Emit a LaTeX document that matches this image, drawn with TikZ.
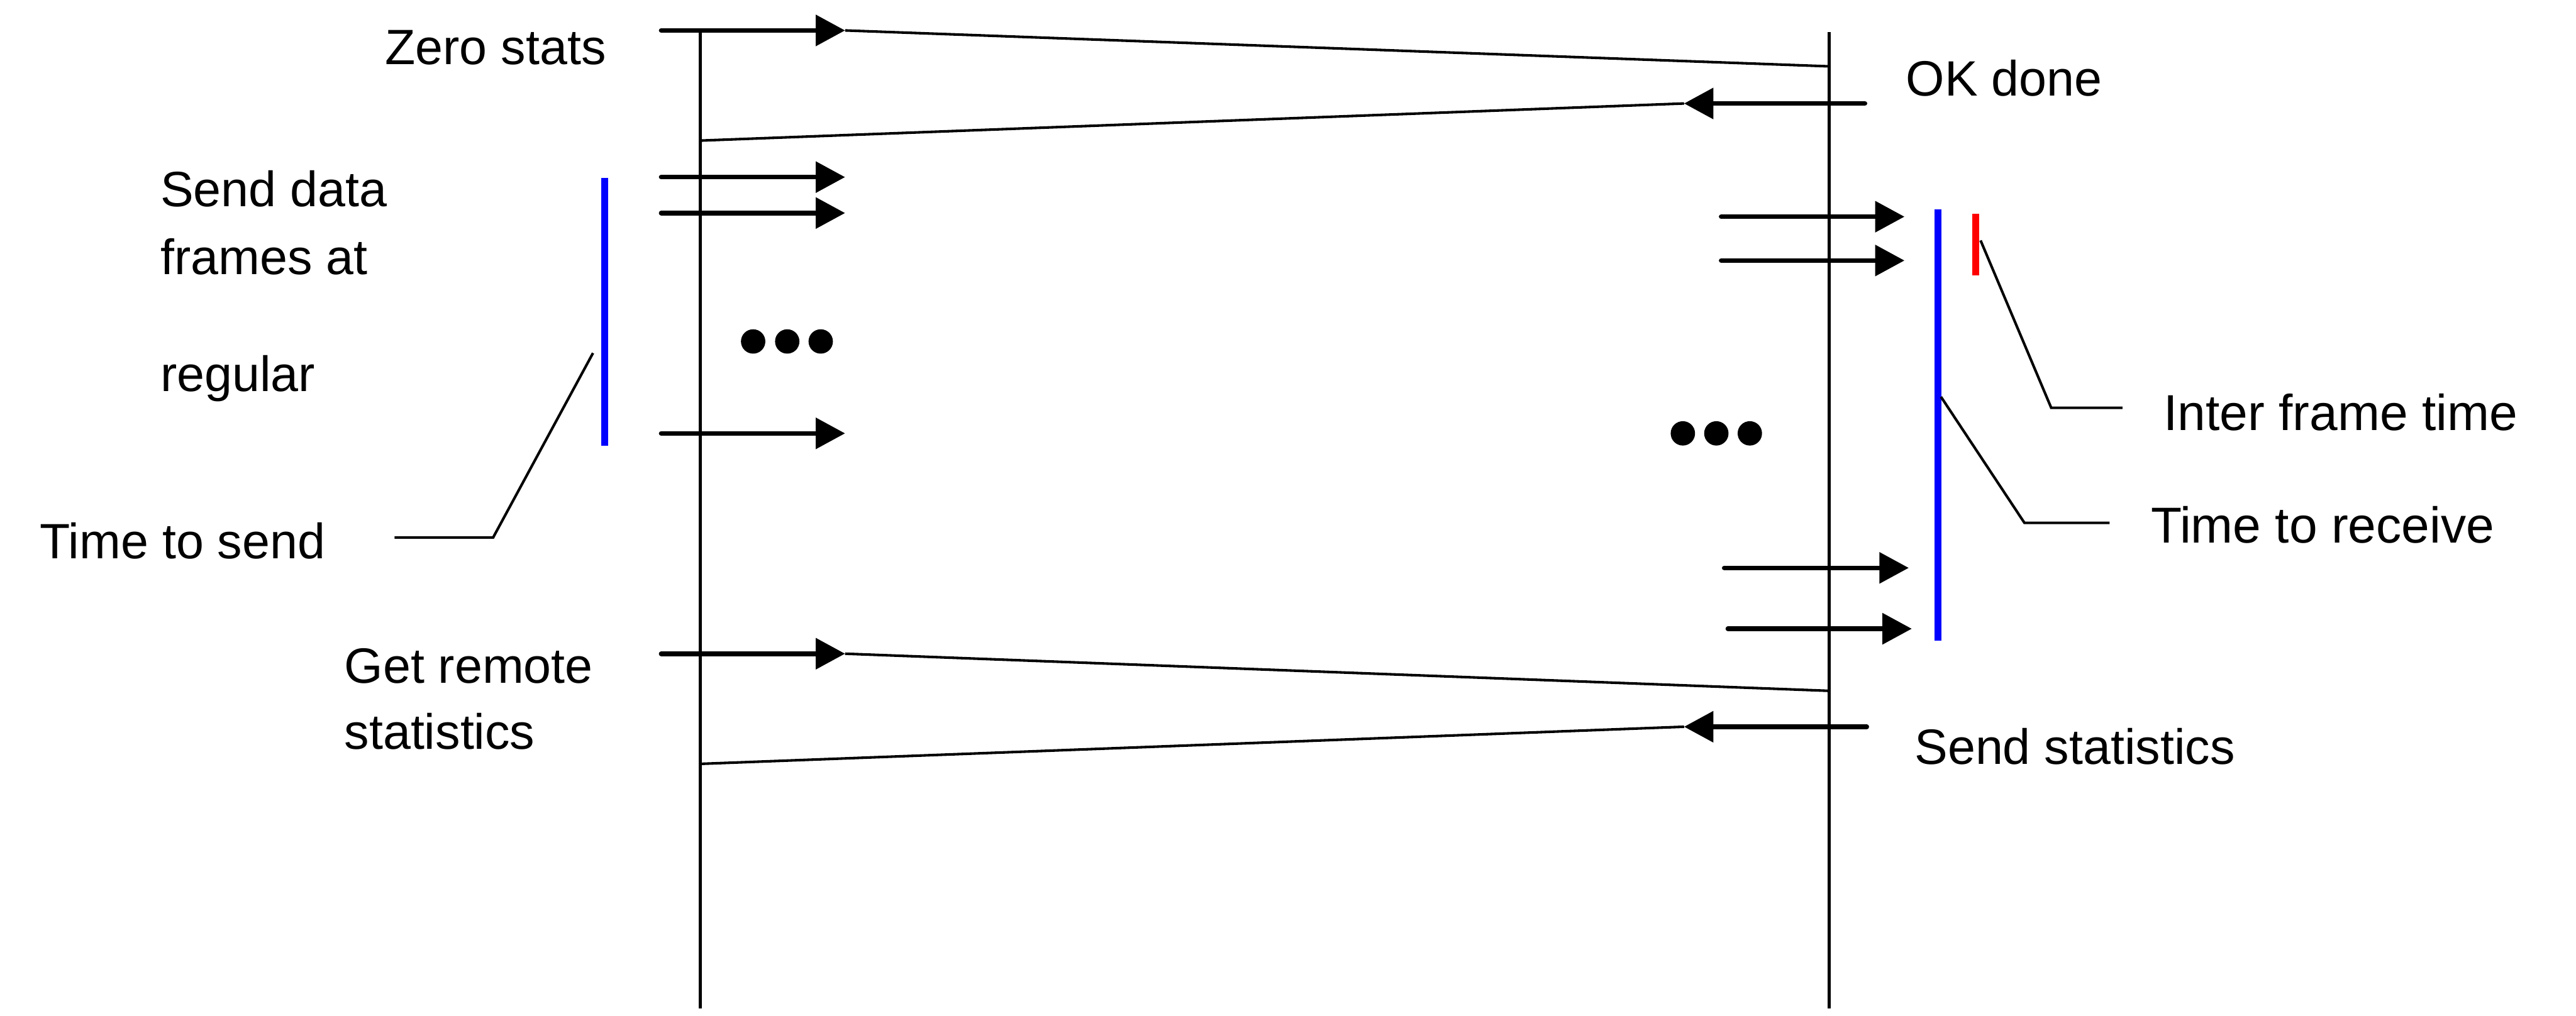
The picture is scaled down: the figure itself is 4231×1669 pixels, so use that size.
\documentclass[tikz,border=0pt]{standalone}
\usepackage{fontspec}
\setmainfont{Liberation Sans}
\usetikzlibrary{arrows.meta}

\newcommand{\lblfont}{\fontsize{23.2}{27}\selectfont}
\newcommand{\bigfont}{\fontsize{23.6}{28}\selectfont}

\tikzset{
	lifeline/.style={line width=1.4pt},
	msg/.style={line width=2.2pt, line cap=round, -{Triangle[length=13.7pt,width=14.2pt]}},
	slant/.style={line width=1.2pt},
	leader/.style={line width=1.2pt},
	bar/.style={line width=3.3pt},
	lbl/.style={anchor=base west, inner sep=0pt, font=\lblfont},
	biglbl/.style={anchor=base west, inner sep=0pt, font=\bigfont}
}

\begin{document}
\begin{tikzpicture}[x=0.01cm,y=-0.01cm]
		\useasboundingbox (0,0) rectangle (4231,1669);

		\coordinate (ltop) at (1150,52);
		\coordinate (lbot) at (1150,1657);
		\coordinate (rtop) at (3004,53);
		\coordinate (rbot) at (3004,1657);

		\draw [lifeline] (ltop) -- (lbot);
		\draw [lifeline] (rtop) -- (rbot);

		\coordinate (zs0) at (1086,50);
		\coordinate (zs1) at (1388,50);
		\coordinate (zs2) at (3004,109);
		\coordinate (ok0) at (3063,170);
		\coordinate (ok1) at (2766,170);
		\coordinate (ok2) at (1150,231);
		\coordinate (gr0) at (1086,1074);
		\coordinate (gr1) at (1388,1074);
		\coordinate (gr2) at (3004,1135);
		\coordinate (ss0) at (3066,1194);
		\coordinate (ss1) at (2766,1194);
		\coordinate (ss2) at (1150,1255);

		\draw [msg] (zs0) -- (zs1);
		\draw [slant] (zs1) -- (zs2);
		\draw [msg] (ok0) -- (ok1);
		\draw [slant] (ok1) -- (ok2);
		\draw [msg] (gr0) -- (gr1);
		\draw [slant] (gr1) -- (gr2);
		\draw [msg] (ss0) -- (ss1);
		\draw [slant] (ss1) -- (ss2);

		\coordinate (d1a) at (1086,291);
		\coordinate (d1b) at (1388,291);
		\coordinate (d2a) at (1086,350);
		\coordinate (d2b) at (1388,350);
		\coordinate (d3a) at (1086,712);
		\coordinate (d3b) at (1388,712);
		\draw [msg] (d1a) -- (d1b);
		\draw [msg] (d2a) -- (d2b);
		\draw [msg] (d3a) -- (d3b);

		\coordinate (r1a) at (2827,356);
		\coordinate (r1b) at (3128,356);
		\coordinate (r2a) at (2827,428);
		\coordinate (r2b) at (3128,428);
		\coordinate (r3a) at (2832,933);
		\coordinate (r3b) at (3135,933);
		\coordinate (r4a) at (2838,1033);
		\coordinate (r4b) at (3140,1033);
		\draw [msg] (r1a) -- (r1b);
		\draw [msg] (r2a) -- (r2b);
		\draw [msg] (r3a) -- (r3b);
		\draw [msg] (r4a) -- (r4b);

		\fill (1237,561) circle [radius=0.2cm];
		\fill (1293,561) circle [radius=0.2cm];
		\fill (1348,561) circle [radius=0.2cm];
		\fill (2764,712) circle [radius=0.2cm];
		\fill (2819,712) circle [radius=0.2cm];
		\fill (2874,712) circle [radius=0.2cm];

		\draw [bar, blue] (993,292) -- (993,732);
		\draw [bar, blue] (3183,344) -- (3183,1053);
		\draw [bar, red] (3245,351) -- (3245,452);

		\node [lbl] (zero) at (632,106) {Zero stats};
		\node [lbl] (okdone) at (3130,158) {OK done};
		\node [lbl] (send1) at (263,339) {Send data};
		\node [lbl] (send2) at (263,451) {frames at};
		\node [lbl] (send3) at (263,643) {regular};
		\node [lbl] (tsend) at (65,918) {Time to send};
		\node [lbl] (getr1) at (565,1122) {Get remote};
		\node [lbl] (getr2) at (565,1231) {statistics};
		\node [lbl] (sendst) at (3144,1256) {Send statistics};
		\node [biglbl] (inter) at (3553,707) {Inter frame time};
		\node [biglbl] (trecv) at (3532,892) {Time to receive};

		\coordinate (ts0) at (974,580);
		\coordinate (ts1) at (810,883);
		\coordinate (ts2) at (648,883);
		\coordinate (if0) at (3253,395);
		\coordinate (if1) at (3369,670);
		\coordinate (if2) at (3486,670);
		\coordinate (tr0) at (3188,652);
		\coordinate (tr1) at (3325,859);
		\coordinate (tr2) at (3465,859);
		\draw [leader] (ts0) -- (ts1) -- (ts2);
		\draw [leader] (if0) -- (if1) -- (if2);
		\draw [leader] (tr0) -- (tr1) -- (tr2);

\end{tikzpicture}
\end{document}
